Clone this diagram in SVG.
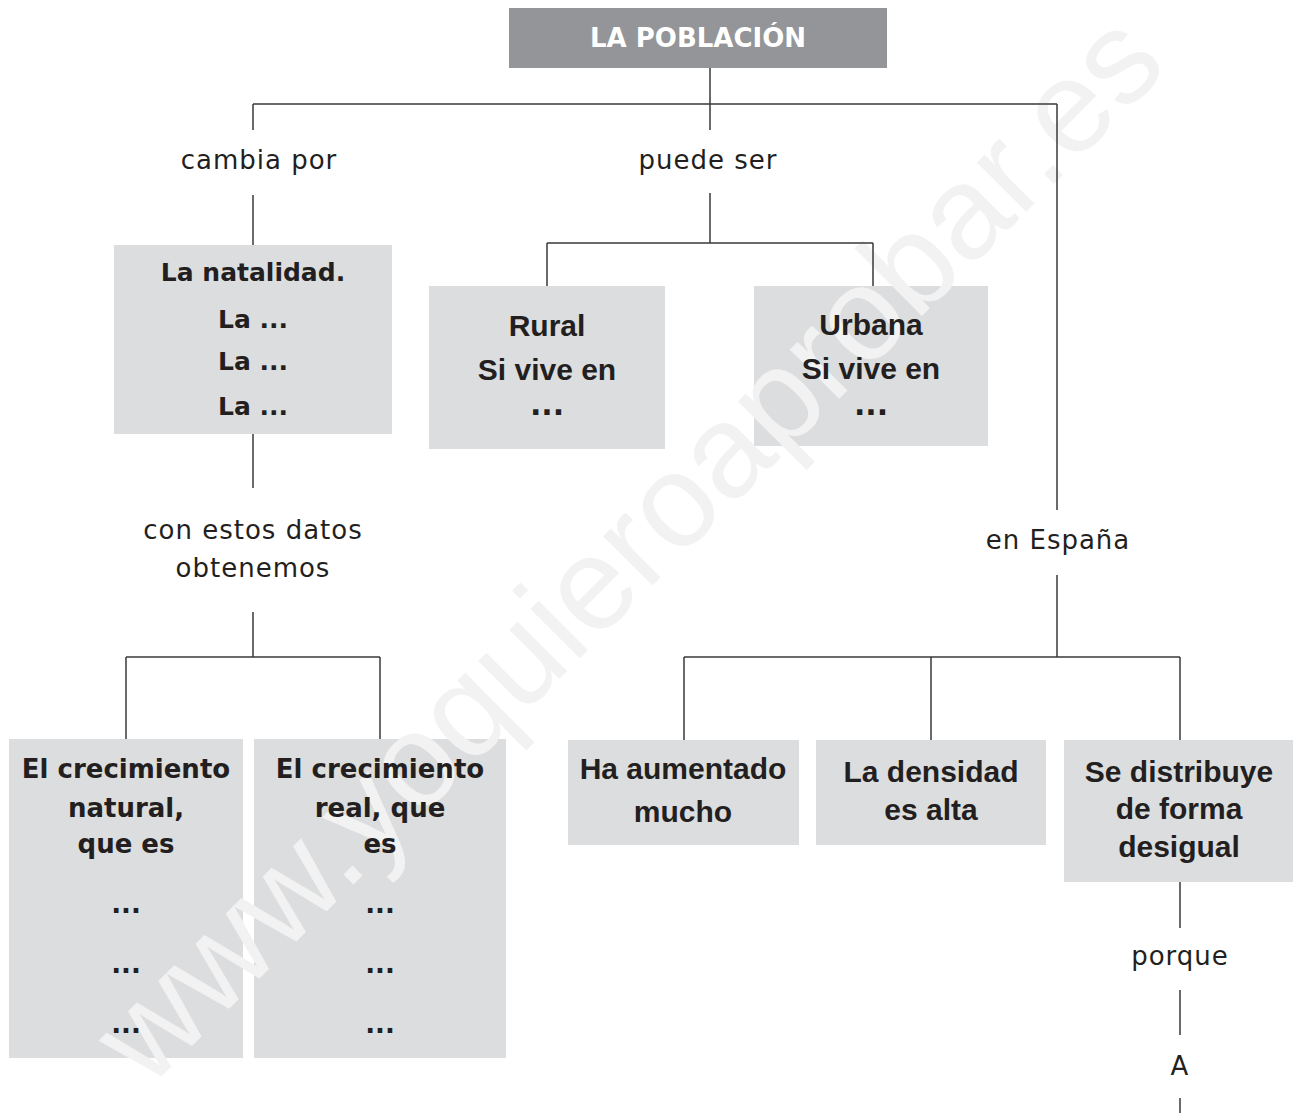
<svg xmlns="http://www.w3.org/2000/svg" width="1293" height="1113" viewBox="0 0 1293 1113">
<style>
.box{fill:#dcdddf}
.title{fill:#939598}
.wm{font-family:"Liberation Sans",Arial,sans-serif;font-size:132px;fill:#f2f2f2}
.lbl{font-family:"DejaVu Sans",sans-serif;font-size:26px;letter-spacing:1px;fill:#231f20;text-anchor:middle}
.bw{font-family:"DejaVu Sans",sans-serif;font-weight:bold;font-size:26px;fill:#231f20;text-anchor:middle}
.bc{font-family:"Liberation Sans",Arial,sans-serif;font-weight:bold;font-size:30px;fill:#231f20;text-anchor:middle}
.dots{font-family:"DejaVu Sans",sans-serif;font-weight:bold;font-size:30px;fill:#231f20;text-anchor:middle}
.tt{font-family:"DejaVu Sans",sans-serif;font-weight:bold;font-size:26px;fill:#ffffff;text-anchor:middle}
.ln{stroke:#3a3a3a;stroke-width:1.5;fill:none}
</style>
<rect width="1293" height="1113" fill="#ffffff"/>
<g id="boxes">
<rect id="b-title" class="title" x="509" y="8" width="378" height="60"/>
<rect id="b-natalidad" class="box" x="114" y="245" width="278" height="189"/>
<rect id="b-rural" class="box" x="429" y="286" width="236" height="163"/>
<rect id="b-urbana" class="box" x="754" y="286" width="234" height="160"/>
<rect id="b-natural" class="box" x="9" y="739" width="234" height="319"/>
<rect id="b-real" class="box" x="254" y="739" width="252" height="319"/>
<rect id="b-aumentado" class="box" x="568" y="740" width="231" height="105"/>
<rect id="b-densidad" class="box" x="816" y="740" width="230" height="105"/>
<rect id="b-distribuye" class="box" x="1064" y="740" width="229" height="142"/>
</g>
<text class="wm" transform="translate(148,1090) rotate(-45)">www.yoquieroaprobar.es</text>
<g id="connectors" class="ln">
<path d="M710,68 V104 M253,104 H1057 M253,104 V130 M710,104 V130 M1057,104 V510"/>
<path d="M253,195 V245"/>
<path d="M710,193 V243 M547,243 H873 M547,243 V286 M873,243 V286"/>
<path d="M253,434 V488"/>
<path d="M253,612 V657 M126,657 H380 M126,657 V739 M380,657 V739"/>
<path d="M1057,575 V657 M684,657 H1180 M684,657 V740 M931,657 V740 M1180,657 V740"/>
<path d="M1180,882 V928 M1180,990 V1035 M1180,1098 V1113"/>
</g>
<g id="n-title"><text class="tt" x="698" y="47">LA POBLACIÓN</text></g>
<g id="n-cambia"><text class="lbl" x="259" y="169">cambia por</text></g>
<g id="n-puede"><text class="lbl" x="708" y="169">puede ser</text></g>
<g id="n-natalidad">
<text class="bw" x="253" y="281" style="font-size:25px">La natalidad.</text>
<text class="bw" x="253" y="328" style="font-size:25px">La ...</text>
<text class="bw" x="253" y="370" style="font-size:25px">La ...</text>
<text class="bw" x="253" y="415" style="font-size:25px">La ...</text>
</g>
<g id="n-rural">
<text class="bc" x="547" y="336">Rural</text>
<text class="bc" x="547" y="380">Si vive en</text>
<text class="dots" x="547" y="415">...</text>
</g>
<g id="n-urbana">
<text class="bc" x="871" y="335">Urbana</text>
<text class="bc" x="871" y="379">Si vive en</text>
<text class="dots" x="871" y="415">...</text>
</g>
<g id="n-datos">
<text class="lbl" x="253" y="539">con estos datos</text>
<text class="lbl" x="253" y="577">obtenemos</text>
</g>
<g id="n-espana"><text class="lbl" x="1058" y="549">en España</text></g>
<g id="n-natural">
<text class="bw" x="126" y="778">El crecimiento</text>
<text class="bw" x="126" y="817">natural,</text>
<text class="bw" x="126" y="853">que es</text>
<text class="bw" x="126" y="913">...</text>
<text class="bw" x="126" y="973">...</text>
<text class="bw" x="126" y="1033">...</text>
</g>
<g id="n-real">
<text class="bw" x="380" y="778">El crecimiento</text>
<text class="bw" x="380" y="817">real, que</text>
<text class="bw" x="380" y="853">es</text>
<text class="bw" x="380" y="913">...</text>
<text class="bw" x="380" y="973">...</text>
<text class="bw" x="380" y="1033">...</text>
</g>
<g id="n-aumentado">
<text class="bc" x="683" y="779">Ha aumentado</text>
<text class="bc" x="683" y="822">mucho</text>
</g>
<g id="n-densidad">
<text class="bc" x="931" y="782">La densidad</text>
<text class="bc" x="931" y="820">es alta</text>
</g>
<g id="n-distribuye">
<text class="bc" x="1179" y="782">Se distribuye</text>
<text class="bc" x="1179" y="819">de forma</text>
<text class="bc" x="1179" y="857">desigual</text>
</g>
<g id="n-porque"><text class="lbl" x="1180" y="965">porque</text></g>
<g id="n-a"><text class="lbl" x="1180" y="1075">A</text></g>
</svg>
